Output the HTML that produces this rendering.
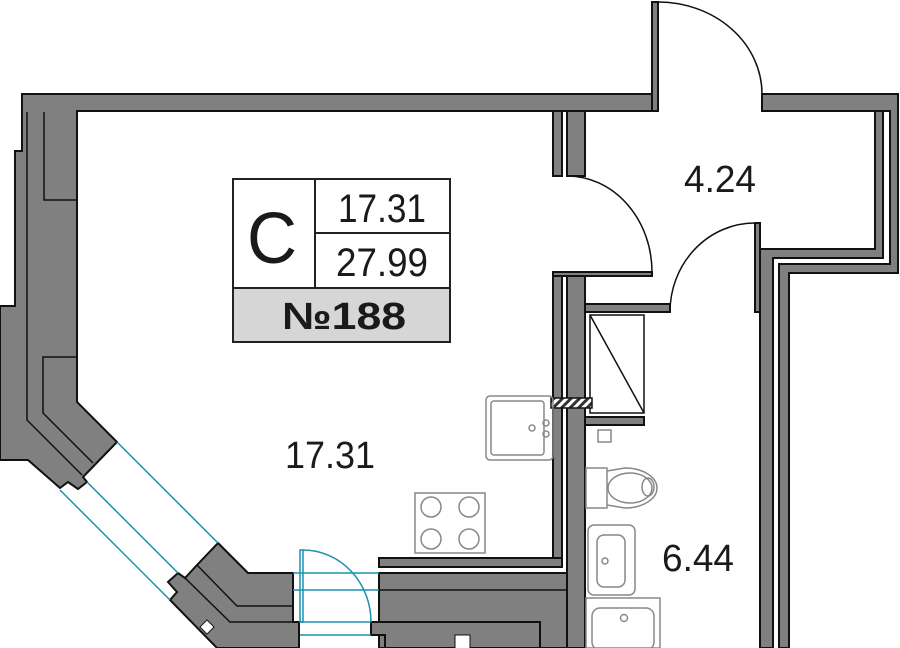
<!DOCTYPE html>
<html><head><meta charset="utf-8"><style>
html,body{margin:0;padding:0;background:#fff;width:900px;height:648px;overflow:hidden}
svg{display:block}
text{font-family:"Liberation Sans",sans-serif;fill:#1a1a1a}
</style></head><body>
<svg width="900" height="648" viewBox="0 0 900 648" xmlns="http://www.w3.org/2000/svg">
<defs>
<pattern id="h" width="6" height="6" patternUnits="userSpaceOnUse" patternTransform="rotate(45)">
<rect width="6" height="6" fill="#fff"/><rect width="3" height="6" fill="#333"/></pattern>
</defs>
<g fill="#808080" stroke="#111" stroke-width="2" stroke-linejoin="miter">
<path d="M22,94 L655,94 L655,111 L77,111 L77,402 L117,442 L83,477 L87,482 L78,489 L68,482 L60,488 L28,460 L0,460 L0,306 L15,306 L15,151 L22,151 Z"/>
<rect x="652" y="2" width="6" height="109"/>
<path d="M762,94 L898,94 L898,273 L789,273 L789,648 L779,648 L779,264 L890,264 L890,111 L762,111 Z"/>
<path d="M875,111 L883,111 L883,258 L773,258 L773,648 L760,648 L760,249 L875,249 Z"/>
<rect x="553" y="111" width="9" height="65"/>
<rect x="567" y="111" width="18" height="65"/>
<rect x="553" y="272" width="99" height="4"/>
<rect x="553" y="276" width="9" height="289"/>
<rect x="567" y="276" width="18" height="372"/>
<rect x="585" y="304" width="85" height="8"/>
<rect x="755" y="223" width="5" height="89"/>
<rect x="585" y="417" width="59" height="8"/>
<rect x="379" y="558" width="183" height="9"/>
<rect x="379" y="573" width="188" height="75"/>
<path d="M218,543 L248,573 L293,573 L293,622 L299,622 L299,648 L217,648 L170,600 L177,592 L168,582 L178,573 L185,578 L197,565 Z"/>
<path d="M371,622 L540,622 L540,648 L385,648 L385,635 L371,635 Z"/>
</g>
<g fill="none" stroke="#111" stroke-width="1.5">
<path d="M44,112 L44,200 L77,200"/>
<path d="M77,357 L43,357 L43,413 L93,463"/>
<path d="M27,112 L27,420 L82,475"/>
<path d="M197,565 L237,606 L293,606"/>
<path d="M185,578 L230,622 L299,622"/>
<path d="M379,590 L567,590"/>
<path d="M540,622 L540,648"/>
</g>
<rect x="202" y="622" width="10" height="10" fill="#fff" stroke="#111" transform="rotate(45 207 627)"/>
<rect x="455" y="635" width="15" height="14" fill="#fff" stroke="#111"/>
<g stroke="#1a8fb0" stroke-width="1.5" fill="none">
<line x1="117" y1="442" x2="218" y2="543"/>
<line x1="87" y1="482" x2="178" y2="573"/>
<line x1="60" y1="490" x2="170" y2="600"/>
<line x1="293" y1="573" x2="379" y2="573"/>
<line x1="293" y1="590" x2="379" y2="590"/>
<line x1="300" y1="622" x2="371" y2="622"/>
<line x1="300" y1="635" x2="371" y2="635"/>
<rect x="300" y="550" width="3" height="72"/>
<path d="M303,550 A68,72 0 0 1 371,622"/>
</g>
<g stroke="#111" stroke-width="1.5" fill="none">
<path d="M658,2 A104,92 0 0 1 762,94"/>
<path d="M567,176 A85,96 0 0 1 652,272"/>
<path d="M755,223 A85,89 0 0 0 670,312"/>
</g>
<rect x="590" y="315" width="54" height="98" fill="#fff" stroke="#111" stroke-width="1.5"/>
<line x1="590" y1="315" x2="644" y2="413" stroke="#111" stroke-width="1.5"/>
<rect x="551" y="398" width="41" height="10" fill="url(#h)" stroke="#111" stroke-width="1.5"/>
<g fill="none" stroke="#888" stroke-width="1.5">
<rect x="486" y="396" width="67" height="64" rx="4"/>
<rect x="491" y="401" width="53" height="54" rx="3"/>
<circle cx="532" cy="428" r="3"/><circle cx="546" cy="423" r="3"/><circle cx="546" cy="434" r="3"/>
<rect x="415" y="493" width="70" height="60"/>
<circle cx="431" cy="507" r="10"/><circle cx="469" cy="507" r="10"/>
<circle cx="431" cy="539" r="10"/><circle cx="469" cy="539" r="10"/>
<rect x="598" y="430" width="13" height="12"/>
<rect x="586" y="468" width="21" height="40"/>
<path d="M607,471 L625,468 A32,20 0 0 1 625,508 L607,505"/>
<ellipse cx="630" cy="488" rx="22" ry="15"/>
<ellipse cx="648" cy="487" rx="6" ry="9"/>
<rect x="588" y="525" width="47" height="70" rx="6"/>
<rect x="597" y="535" width="28" height="52" rx="7"/>
<circle cx="605" cy="561" r="3"/>
<rect x="586" y="598" width="74" height="50"/>
<rect x="592" y="608" width="62" height="42" rx="8"/>
<circle cx="624" cy="618" r="3.5"/>
</g>
<rect x="233" y="179" width="217" height="163" fill="#fff" stroke="#222" stroke-width="2"/>
<rect x="234" y="288" width="215" height="53" fill="#d6d6d6"/>
<line x1="233" y1="288" x2="450" y2="288" stroke="#222" stroke-width="2"/>
<line x1="315" y1="179" x2="315" y2="288" stroke="#222" stroke-width="2"/>
<line x1="315" y1="233" x2="450" y2="233" stroke="#222" stroke-width="2"/>
<text x="272" y="263" font-size="72" text-anchor="middle" textLength="50" lengthAdjust="spacingAndGlyphs">C</text>
<text x="382" y="222" font-size="40" text-anchor="middle" textLength="88" lengthAdjust="spacingAndGlyphs">17.31</text>
<text x="382" y="276" font-size="40" text-anchor="middle" textLength="92" lengthAdjust="spacingAndGlyphs">27.99</text>
<text x="344" y="329" font-size="38" font-weight="bold" text-anchor="middle" textLength="124" lengthAdjust="spacingAndGlyphs">№188</text>
<text x="720" y="192" font-size="38" text-anchor="middle" textLength="72" lengthAdjust="spacingAndGlyphs">4.24</text>
<text x="330" y="468" font-size="38" text-anchor="middle" textLength="90" lengthAdjust="spacingAndGlyphs">17.31</text>
<text x="698" y="571" font-size="38" text-anchor="middle" textLength="72" lengthAdjust="spacingAndGlyphs">6.44</text>
</svg>
</body></html>
